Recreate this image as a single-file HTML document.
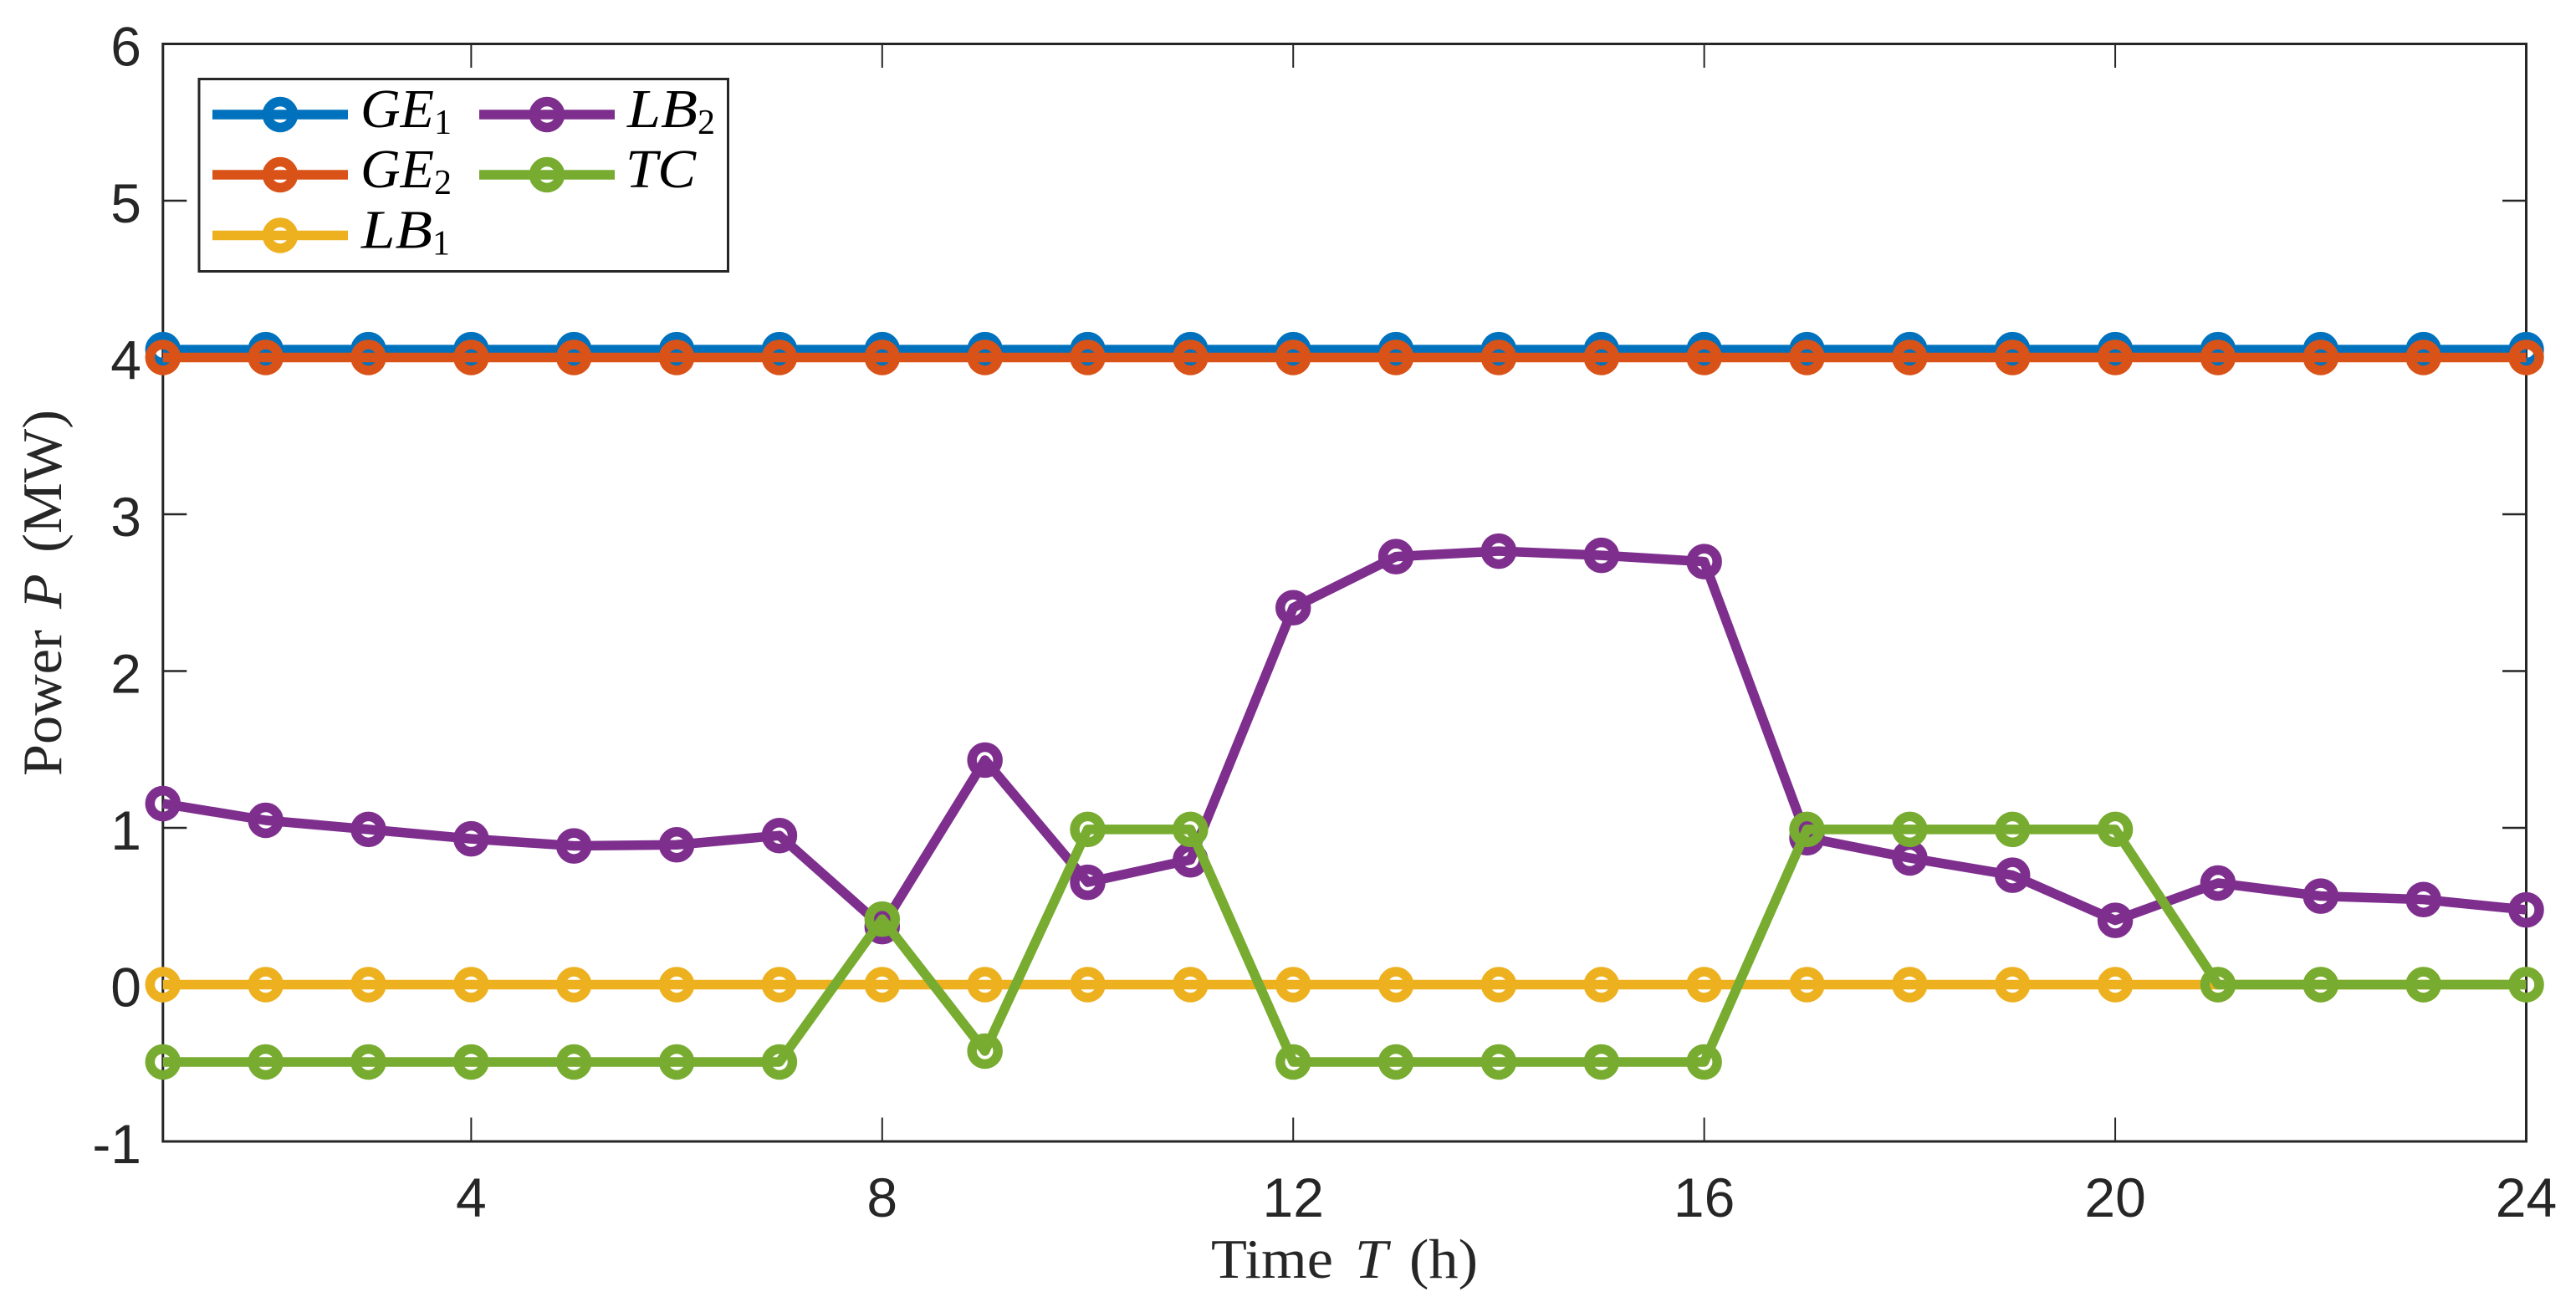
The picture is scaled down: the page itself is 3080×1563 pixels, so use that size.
<!DOCTYPE html>
<html lang="en">
<head>
<meta charset="utf-8">
<title>Power over time</title>
<style>
  html, body { margin: 0; padding: 0; background: #fff; }
  svg { display: block; }
</style>
</head>
<body>
<svg id="chart" xmlns="http://www.w3.org/2000/svg" width="3080" height="1563" viewBox="0 0 3080 1563"></svg>
<script>
const hours = [1,2,3,4,5,6,7,8,9,10,11,12,13,14,15,16,17,18,19,20,21,22,23,24];
const ge1Values = [4.05,4.05,4.05,4.05,4.05,4.05,4.05,4.05,4.05,4.05,4.05,4.05,4.05,4.05,4.05,4.05,4.05,4.05,4.05,4.05,4.05,4.05,4.05,4.05];
const ge2Values = [4,4,4,4,4,4,4,4,4,4,4,4,4,4,4,4,4,4,4,4,4,4,4,4];
const lb1Values = [0,0,0,0,0,0,0,0,0,0,0,0,0,0,0,0,0,0,0,0,0,0,0,0];
const lb2Values = [1.155,1.048,0.99,0.93,0.885,0.892,0.951,0.37,1.432,0.653,0.796,2.404,2.73,2.765,2.738,2.698,0.937,0.808,0.698,0.41,0.648,0.565,0.543,0.477];
const tcValues = [-0.493,-0.493,-0.493,-0.493,-0.493,-0.493,-0.493,0.418,-0.424,0.99,0.99,-0.493,-0.493,-0.493,-0.493,-0.493,0.99,0.99,0.99,0.99,0,0,0,0];
const xTickLabels = [4,8,12,16,20,24];
const yTickLabels = [-1,0,1,2,3,4,5,6];

const NS = 'http://www.w3.org/2000/svg';
const svg = document.getElementById('chart');
const plot = { left: 194.8, right: 3020.5, top: 52.5, bottom: 1365 };
const xDomain = [1, 24];
const yDomain = [-1, 6];
const AXIS = '#262626';

function xScale(v) {
  return plot.left + (v - xDomain[0]) / (xDomain[1] - xDomain[0]) * (plot.right - plot.left);
}
function yScale(v) {
  return plot.bottom - (v - yDomain[0]) / (yDomain[1] - yDomain[0]) * (plot.bottom - plot.top);
}
function make(tag, attrs, parent, text) {
  const el = document.createElementNS(NS, tag);
  for (const k in attrs) el.setAttribute(k, attrs[k]);
  if (text !== undefined) el.textContent = text;
  parent.appendChild(el);
  return el;
}
function group(parent) {
  return make('g', {}, parent);
}

/* plot frame */
const frame = make('rect', { x: plot.left, y: plot.top, width: plot.right - plot.left, height: plot.bottom - plot.top, fill: '#fff', stroke: AXIS, 'stroke-width': 3 }, svg);



/* x axis */
const xAxis = group(svg);


xTickLabels.forEach(function (t) {
  const x = xScale(t);
  const tickB = make('line', { x1: x, x2: x, y1: plot.bottom, y2: plot.bottom - 28.5, stroke: AXIS, 'stroke-width': 2 }, xAxis);
  
  
  const tickT = make('line', { x1: x, x2: x, y1: plot.top, y2: plot.top + 28.5, stroke: AXIS, 'stroke-width': 2 }, xAxis);
  
  
  const label = make('text', { x: x, y: 1455, 'text-anchor': 'middle', 'font-family': '"Liberation Sans", sans-serif', 'font-size': 66, fill: AXIS }, xAxis, String(t));
  
  
});

/* y axis */
const yAxis = group(svg);


yTickLabels.forEach(function (t) {
  const y = yScale(t);
  const tickL = make('line', { x1: plot.left, x2: plot.left + 28.5, y1: y, y2: y, stroke: AXIS, 'stroke-width': 2.5 }, yAxis);
  
  
  const tickR = make('line', { x1: plot.right, x2: plot.right - 28.5, y1: y, y2: y, stroke: AXIS, 'stroke-width': 2.5 }, yAxis);
  
  
  const label = make('text', { x: 169, y: y + 26, 'text-anchor': 'end', 'font-family': '"Liberation Sans", sans-serif', 'font-size': 66, fill: AXIS }, yAxis, String(t));
  
  
});

/* axis titles */
const serif = '"Liberation Serif", serif';
const xTitle = make('text', { x: 1448, y: 1528, 'font-family': serif, 'font-size': 67, fill: AXIS, 'word-spacing': 8, textLength: 319, lengthAdjust: 'spacingAndGlyphs' }, svg);


make('tspan', {}, xTitle, 'Time ');
make('tspan', { 'font-style': 'italic' }, xTitle, 'T');
make('tspan', {}, xTitle, ' (h)');

const yTitle = make('text', { transform: 'translate(73 928) rotate(-90)', x: 0, y: 0, 'font-family': serif, 'font-size': 67, fill: AXIS, 'word-spacing': 8, textLength: 438, lengthAdjust: 'spacingAndGlyphs' }, svg);


make('tspan', {}, yTitle, 'Power ');
make('tspan', { 'font-style': 'italic' }, yTitle, 'P');
make('tspan', {}, yTitle, ' (MW)');

/* series */
const RING_R = 15.5;
const RING_W = 11.5;
const LINE_W = 11.5;
function drawSeries(values, color, name) {
  const g = group(svg);
  
  
  const pts = values.map(function (v, i) { return xScale(hours[i]) + ',' + yScale(v); }).join(' ');
  const line = make('polyline', { points: pts, fill: 'none', stroke: color, 'stroke-width': LINE_W, 'stroke-linejoin': 'round' }, g);
  
  
  values.forEach(function (v, i) {
    const c = make('circle', { cx: xScale(hours[i]), cy: yScale(v), r: RING_R, fill: 'none', stroke: color, 'stroke-width': RING_W }, g);
    
    
  });
}
drawSeries(ge1Values, '#0072BD', 'series-ge1');
drawSeries(ge2Values, '#D95319', 'series-ge2');
drawSeries(lb1Values, '#EDB120', 'series-lb1');
drawSeries(lb2Values, '#7E2F8E', 'series-lb2');
drawSeries(tcValues, '#77AC30', 'series-tc');

/* legend */
const legend = group(svg);


const legendBox = make('rect', { x: 238, y: 94.5, width: 632.5, height: 230, fill: '#fff', stroke: AXIS, 'stroke-width': 3 }, legend);



function legendEntry(x0, yc, color, main, sub, textX, textW, name) {
  const g = group(legend);
  
  
  make('line', { x1: x0, x2: x0 + 162, y1: yc, y2: yc, stroke: color, 'stroke-width': LINE_W }, g);
  make('circle', { cx: x0 + 81, cy: yc, r: RING_R, fill: 'none', stroke: color, 'stroke-width': RING_W }, g);
  make('text', { x: textX, y: yc + 15, 'font-family': serif, 'font-style': 'italic', 'font-size': 66, fill: '#000', textLength: textW, lengthAdjust: 'spacingAndGlyphs' }, g, main);
  if (sub) {
    make('text', { x: textX + textW, y: yc + 23, 'font-family': serif, 'font-size': 42, fill: '#000' }, g, sub);
  }
}
legendEntry(254, 137, '#0072BD', 'GE', '1', 431, 88, 'legend-entry-ge1');
legendEntry(254, 209, '#D95319', 'GE', '2', 431, 88, 'legend-entry-ge2');
legendEntry(254, 281.5, '#EDB120', 'LB', '1', 432, 85, 'legend-entry-lb1');
legendEntry(573, 137, '#7E2F8E', 'LB', '2', 750, 84, 'legend-entry-lb2');
legendEntry(573, 209, '#77AC30', 'TC', '', 748, 84, 'legend-entry-tc');
</script>
</body>
</html>
